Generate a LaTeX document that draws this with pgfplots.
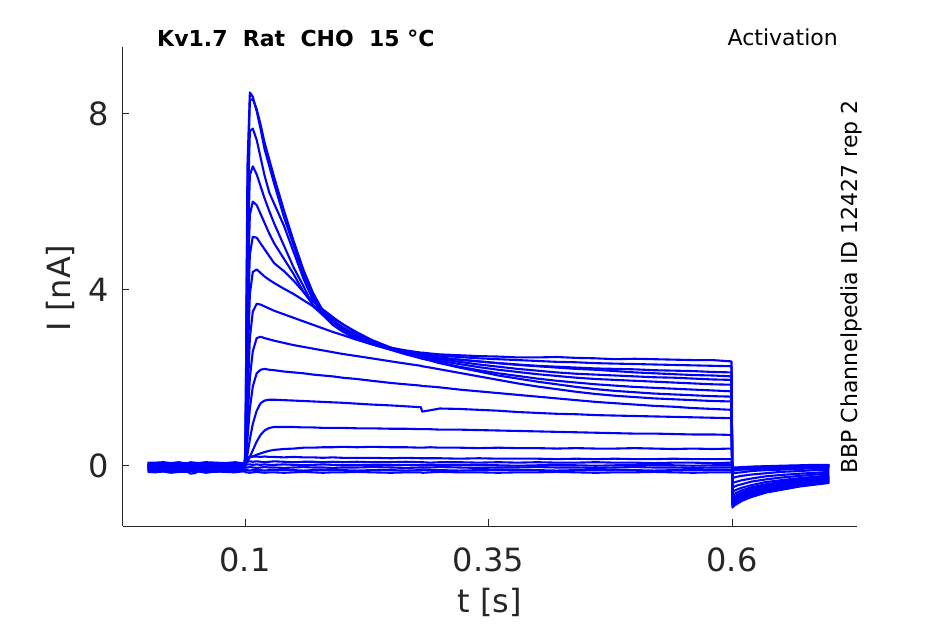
\documentclass[border=0pt]{standalone}
\usepackage{fontspec}
\setmainfont{DejaVu Sans}
\usepackage{pgfplots}
\usepackage{pgfplotstable}
\pgfplotsset{compat=1.18}
\definecolor{axgray}{HTML}{262626}
\definecolor{trace}{RGB}{0,0,255}

\pgfplotstableread{
t A B C D E F G H I J K L M N O P Q R S
0 0.02 -0.02 0.05 -0.08 -0.02 -0.03 0.01 -0.11 -0.03 0.07 -0.07 0.02 -0.10 0.05 -0.04 -0.08 0.02 -0.14 -0.09
0.008 0.04 -0.05 0.04 -0.09 0.00 -0.06 0.04 -0.08 -0.01 0.07 -0.05 0.01 -0.12 0.02 -0.02 -0.11 0.01 -0.15 -0.07
0.016 0.01 -0.02 0.07 -0.07 0.00 -0.04 0.03 -0.10 -0.04 0.08 -0.08 0.00 -0.13 0.04 -0.05 -0.08 0.04 -0.13 -0.07
0.024 0.03 -0.03 0.05 -0.10 0.02 -0.07 0.02 -0.11 -0.02 0.06 -0.05 0.03 -0.11 0.04 -0.03 -0.09 0.02 -0.16 -0.05
0.032 0.00 -0.04 0.04 -0.08 -0.01 -0.04 0.05 -0.09 -0.02 0.08 -0.06 0.01 -0.14 0.06 -0.06 -0.10 0.01 -0.14 -0.08
0.04 0.03 -0.01 0.06 -0.08 0.01 -0.05 0.03 -0.12 0.00 0.05 -0.07 0.00 -0.12 0.03 -0.03 -0.07 0.03 -0.14 -0.06
0.044 0.02 -0.03 0.03 -0.06 -0.02 -0.06 0.02 -0.10 -0.03 0.08 -0.04 0.02 -0.18 0.05 -0.04 -0.09 0.00 -0.12 -0.09
0.048 0.01 -0.04 0.05 -0.09 0.01 -0.03 0.04 -0.10 -0.01 0.07 -0.06 -0.01 -0.17 0.02 -0.05 -0.10 0.02 -0.15 -0.06
0.052 0.04 -0.02 0.05 -0.07 0.00 -0.05 0.01 -0.08 -0.04 0.06 -0.07 0.01 -0.13 0.05 -0.02 -0.08 0.02 -0.13 -0.07
0.06 0.02 -0.05 0.07 -0.10 -0.01 -0.06 0.03 -0.11 -0.01 0.08 -0.05 0.01 -0.11 0.04 -0.04 -0.11 0.04 -0.16 -0.08
0.07 0.01 -0.03 0.04 -0.07 0.02 -0.04 0.03 -0.09 -0.02 0.07 -0.08 0.03 -0.14 0.03 -0.05 -0.09 0.01 -0.13 -0.05
0.08 0.03 -0.03 0.06 -0.08 0.00 -0.07 0.05 -0.12 -0.03 0.06 -0.06 0.00 -0.11 0.06 -0.03 -0.09 0.03 -0.14 -0.07
0.09 0.00 -0.01 0.03 -0.09 -0.01 -0.05 0.02 -0.09 0.00 0.08 -0.06 0.02 -0.12 0.04 -0.06 -0.07 0.00 -0.15 -0.08
0.0995 0.02 -0.04 0.06 -0.06 0.01 -0.05 0.04 -0.10 -0.02 0.05 -0.04 -0.01 -0.13 0.03 -0.04 -0.10 0.03 -0.12 -0.06
0.1005 0.4 0.3 0.3 0.25 0.2 0.18 0.15 0.12 0.1 0.08 0.05 0.03 0.12 0.15 0.08 0.02 -0.04 -0.10 -0.15
0.1025 6.8 6.2 5.6 4.6 3.8 3.0 2.2 1.5 1.0 0.6 0.25 0.1 0.17 0.19 0.09 0.03 -0.04 -0.10 -0.15
0.105 8.48 8.3 7.6 6.6 5.7 4.8 3.9 2.9 2.0 1.3 0.6 0.2 0.19 0.20 0.10 0.03 -0.03 -0.11 -0.16
0.108 8.38 8.33 7.66 6.8 6.0 5.2 4.4 3.5 2.6 1.8 0.95 0.35 0.21 0.21 0.09 0.02 -0.04 -0.10 -0.15
0.112 8.05 8.1 7.4 6.62 5.92 5.18 4.46 3.68 2.9 2.1 1.25 0.55 0.25 0.21 0.10 0.03 -0.05 -0.09 -0.14
0.116 7.65 7.75 7.0 6.35 5.72 5.05 4.38 3.66 2.93 2.18 1.42 0.7 0.28 0.20 0.09 0.02 -0.04 -0.10 -0.15
0.12 7.2 7.35 6.6 6.08 5.52 4.92 4.3 3.62 2.9 2.2 1.48 0.8 0.31 0.21 0.08 0.03 -0.03 -0.11 -0.16
0.125 6.8 6.95 6.2 5.78 5.27 4.76 4.22 3.57 2.87 2.18 1.5 0.86 0.34 0.20 0.09 0.02 -0.04 -0.10 -0.15
0.13 6.4 6.55 5.95 5.5 5.05 4.6 4.15 3.52 2.84 2.17 1.5 0.88 0.36 0.20 0.10 0.02 -0.04 -0.10 -0.15
0.14 5.65 5.8 5.45 5.0 4.7 4.42 4.02 3.44 2.79 2.14 1.49 0.88 0.38 0.19 0.09 0.03 -0.05 -0.09 -0.16
0.15 5.0 5.1 4.85 4.5 4.35 4.2 3.9 3.36 2.74 2.12 1.48 0.88 0.39 0.20 0.08 0.02 -0.04 -0.10 -0.15
0.16 4.35 4.45 4.25 4.08 3.95 3.95 3.76 3.28 2.7 2.1 1.47 0.87 0.41 0.19 0.09 0.01 -0.03 -0.11 -0.14
0.17 3.85 3.92 3.75 3.62 3.65 3.73 3.62 3.2 2.66 2.07 1.46 0.87 0.41 0.19 0.09 0.02 -0.04 -0.10 -0.15
0.18 3.42 3.52 3.46 3.42 3.45 3.55 3.48 3.12 2.62 2.05 1.45 0.86 0.42 0.18 0.08 0.03 -0.04 -0.10 -0.16
0.19 3.2 3.3 3.27 3.26 3.3 3.38 3.35 3.04 2.58 2.03 1.44 0.86 0.42 0.19 0.09 0.02 -0.05 -0.09 -0.15
0.2 3.05 3.12 3.1 3.11 3.15 3.22 3.22 2.97 2.54 2.0 1.43 0.86 0.43 0.18 0.08 0.01 -0.04 -0.10 -0.15
0.215 2.87 2.92 2.9 2.92 2.95 3.0 3.03 2.86 2.49 1.97 1.41 0.85 0.42 0.18 0.09 0.02 -0.04 -0.11 -0.14
0.23 2.76 2.79 2.77 2.79 2.8 2.84 2.86 2.76 2.44 1.93 1.39 0.85 0.43 0.18 0.08 0.02 -0.03 -0.10 -0.15
0.25 2.64 2.68 2.66 2.66 2.66 2.68 2.68 2.63 2.37 1.88 1.37 0.84 0.42 0.17 0.08 0.01 -0.04 -0.10 -0.16
0.265 2.57 2.62 2.6 2.58 2.57 2.57 2.56 2.53 2.32 1.85 1.35 0.84 0.42 0.18 0.09 0.02 -0.05 -0.11 -0.15
0.2805 2.52 2.57 2.55 2.52 2.5 2.48 2.46 2.44 2.27 1.82 1.33 0.83 0.41 0.17 0.08 0.01 -0.04 -0.10 -0.15
0.282 2.51 2.57 2.55 2.52 2.49 2.47 2.45 2.43 2.26 1.81 1.23 0.83 0.41 0.17 0.08 0.01 -0.04 -0.09 -0.16
0.29 2.48 2.55 2.52 2.49 2.46 2.43 2.4 2.39 2.23 1.8 1.26 0.83 0.42 0.17 0.07 0.02 -0.04 -0.10 -0.15
0.3 2.45 2.53 2.5 2.46 2.42 2.38 2.34 2.33 2.19 1.78 1.30 0.82 0.41 0.17 0.08 0.01 -0.03 -0.10 -0.14
0.32 2.41 2.51 2.47 2.41 2.36 2.31 2.25 2.23 2.11 1.73 1.29 0.82 0.41 0.16 0.08 0.02 -0.04 -0.11 -0.15
0.34 2.37 2.49 2.44 2.37 2.3 2.24 2.17 2.14 2.03 1.69 1.27 0.81 0.40 0.17 0.07 0.01 -0.05 -0.10 -0.15
0.36 2.33 2.48 2.42 2.33 2.25 2.18 2.1 2.05 1.95 1.65 1.25 0.80 0.41 0.16 0.08 0.01 -0.04 -0.09 -0.16
0.38 2.29 2.46 2.4 2.3 2.2 2.13 2.04 1.98 1.87 1.61 1.22 0.79 0.40 0.16 0.07 0.00 -0.04 -0.10 -0.15
0.4 2.26 2.46 2.38 2.27 2.16 2.08 1.98 1.91 1.8 1.57 1.20 0.78 0.40 0.16 0.08 0.01 -0.03 -0.10 -0.15
0.42 2.23 2.47 2.36 2.25 2.12 2.04 1.93 1.85 1.74 1.53 1.18 0.77 0.39 0.15 0.07 0.02 -0.04 -0.11 -0.14
0.44 2.2 2.45 2.35 2.23 2.09 2.0 1.89 1.79 1.68 1.49 1.17 0.76 0.40 0.16 0.07 0.01 -0.04 -0.10 -0.15
0.46 2.18 2.44 2.33 2.21 2.07 1.97 1.85 1.74 1.63 1.45 1.15 0.75 0.39 0.15 0.08 0.00 -0.05 -0.10 -0.16
0.48 2.15 2.42 2.32 2.2 2.05 1.95 1.82 1.7 1.59 1.42 1.14 0.74 0.39 0.16 0.07 0.01 -0.04 -0.09 -0.15
0.5 2.12 2.43 2.31 2.19 2.03 1.93 1.79 1.67 1.56 1.39 1.13 0.73 0.40 0.15 0.07 0.01 -0.03 -0.10 -0.15
0.52 2.1 2.42 2.3 2.17 2.01 1.91 1.77 1.64 1.53 1.36 1.12 0.73 0.39 0.15 0.06 0.02 -0.04 -0.11 -0.14
0.54 2.08 2.41 2.29 2.16 2.0 1.89 1.75 1.62 1.51 1.34 1.11 0.72 0.38 0.16 0.07 0.01 -0.04 -0.10 -0.15
0.56 2.06 2.40 2.28 2.15 1.98 1.87 1.73 1.6 1.49 1.31 1.10 0.71 0.39 0.15 0.07 0.00 -0.05 -0.10 -0.16
0.58 2.05 2.40 2.27 2.13 1.96 1.85 1.71 1.58 1.47 1.29 1.09 0.71 0.38 0.15 0.06 0.01 -0.04 -0.09 -0.15
0.5995 2.03 2.37 2.26 2.12 1.95 1.84 1.69 1.57 1.46 1.27 1.08 0.70 0.39 0.15 0.07 0.01 -0.04 -0.10 -0.15
0.6005 -0.95 -0.9 -0.88 -0.85 -0.8 -0.77 -0.73 -0.67 -0.6 -0.5 -0.4 -0.28 -0.18 -0.12 -0.08 -0.06 -0.05 -0.06 -0.07
0.602 -0.91 -0.86 -0.84 -0.81 -0.77 -0.74 -0.70 -0.64 -0.57 -0.48 -0.38 -0.27 -0.17 -0.11 -0.08 -0.05 -0.04 -0.06 -0.07
0.605 -0.87 -0.82 -0.80 -0.77 -0.73 -0.70 -0.66 -0.61 -0.54 -0.45 -0.36 -0.25 -0.16 -0.10 -0.07 -0.05 -0.04 -0.05 -0.06
0.61 -0.80 -0.76 -0.74 -0.71 -0.67 -0.65 -0.61 -0.56 -0.50 -0.42 -0.33 -0.23 -0.15 -0.09 -0.06 -0.04 -0.03 -0.05 -0.05
0.62 -0.71 -0.67 -0.65 -0.63 -0.59 -0.56 -0.53 -0.49 -0.44 -0.36 -0.29 -0.20 -0.12 -0.08 -0.05 -0.03 -0.02 -0.04 -0.04
0.635 -0.61 -0.58 -0.56 -0.54 -0.51 -0.48 -0.45 -0.42 -0.37 -0.31 -0.24 -0.17 -0.10 -0.06 -0.03 -0.02 -0.01 -0.03 -0.04
0.65 -0.55 -0.51 -0.50 -0.48 -0.45 -0.42 -0.40 -0.37 -0.33 -0.27 -0.21 -0.14 -0.09 -0.05 -0.02 -0.01 0.00 -0.02 -0.03
0.67 -0.47 -0.44 -0.43 -0.41 -0.38 -0.36 -0.34 -0.31 -0.28 -0.23 -0.18 -0.12 -0.07 -0.04 -0.01 0.00 0.01 -0.01 -0.02
0.685 -0.43 -0.40 -0.39 -0.37 -0.34 -0.32 -0.30 -0.28 -0.25 -0.20 -0.16 -0.10 -0.06 -0.03 0.00 0.01 0.02 0.00 -0.01
0.7 -0.39 -0.36 -0.35 -0.33 -0.31 -0.29 -0.27 -0.25 -0.22 -0.18 -0.14 -0.09 -0.05 -0.02 0.00 0.01 0.02 0.00 -0.01
}\traces

\begin{document}
\begin{tikzpicture}
\useasboundingbox (0,0) rectangle (945pt,624pt);
\begin{axis}[
  at={(122.5pt,98pt)}, anchor=south west,
  scale only axis, width=734pt, height=479pt,
  xmin=-0.02577, xmax=0.72782, ymin=-1.369, ymax=9.512,
  axis x line=bottom, axis y line=left,
  axis line style={-, draw=axgray, line width=1pt},
  xtick={0.1,0.35,0.6}, xticklabels={0.1,0.35,0.6},
  ytick={0,4,8}, yticklabels={0,4,8},
  tick align=inside, major tick length=7pt,
  tick style={draw=axgray, line width=1pt},
  ticklabel style={font=\fontsize{32}{38}\selectfont, text=axgray, inner sep=0pt},
  xticklabel style={anchor=north, yshift=-22pt},
  yticklabel style={anchor=east, xshift=-13pt},
  xlabel={t [s]}, ylabel={I [nA]},
  label style={font=\fontsize{32}{38}\selectfont, text=axgray, inner sep=0pt},
  xlabel style={at={(axis description cs:0.5,-0.1816)}, anchor=base},
  ylabel style={at={(axis description cs:-0.0706,0.497)}, anchor=base},
]
\pgfplotsinvokeforeach{A,B,C,D,E,F,G,H,I,J,K,L,M,N,O,P,Q,R,S}{
  \addplot[draw=trace, line width=2.1pt, line join=round, no markers] table[x=t, y=#1]{\traces};
}
\end{axis}
\node[anchor=base west, inner sep=0pt, font=\fontsize{22}{26}\selectfont\bfseries] at (157pt,577.3pt) {Kv1.7~~Rat~~CHO~~15~°C};
\node[anchor=base east, inner sep=0pt, font=\fontsize{22}{26}\selectfont] at (838pt,578pt) {Activation};
\node[anchor=base, rotate=90, inner sep=0pt, font=\fontsize{22}{26}\selectfont] at (857pt,337pt) {BBP Channelpedia ID 12427 rep 2};
\end{tikzpicture}
\end{document}
